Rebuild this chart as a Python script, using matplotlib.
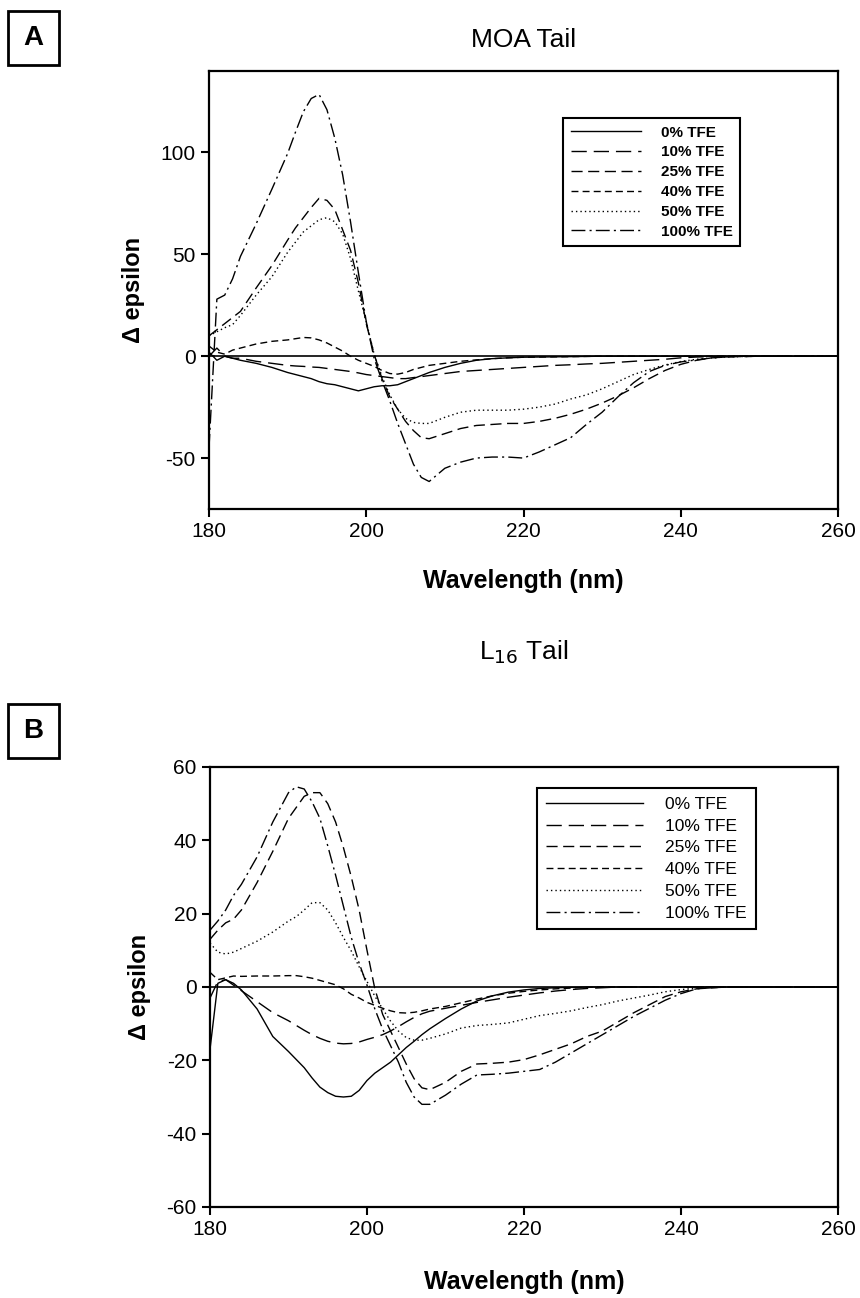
import matplotlib
matplotlib.use("Agg")
import matplotlib.pyplot as plt
from matplotlib.patches import Rectangle

plt.rcParams['font.family'] = ['Liberation Sans', 'DejaVu Sans']
plt.rcParams['axes.unicode_minus'] = False

# wavelength grid (nm) shared by all curves
wl = [180, 181, 182, 183, 184, 186, 188, 190, 191, 192, 193, 194, 195, 196, 197, 198, 199,
      200, 201, 202, 203, 204, 205, 206, 207, 208, 210, 212, 214, 216, 218, 220, 222, 224,
      226, 228, 230, 232, 234, 236, 238, 240, 242, 244, 246, 250, 255, 260]

labels = ["0% TFE", "10% TFE", "25% TFE", "40% TFE", "50% TFE", "100% TFE"]

# --- panel A : MOA tail ---
moa_0 = [2, -2, 0, -1, -2, -3.5, -5.5, -8, -9, -10, -11, -12.5, -13.5, -14, -15, -16, -17,
         -16, -15, -14.5, -14.5, -14, -12.5, -11, -9.5, -8, -5.5, -3.5, -2, -1.2, -0.8, -0.5,
         -0.4, -0.3, -0.2, -0.1, 0, 0, 0, 0, 0, 0, 0, 0, 0, 0, 0, 0]
moa_10 = [0, 4, 0, -1, -1, -2.5, -3.5, -4.5, -4.8, -5, -5.3, -5.5, -6, -6.5, -7, -7.5, -8.2,
          -9, -9.5, -10, -10.5, -11, -11, -10.5, -10, -9.5, -8.5, -7.5, -7, -6.5, -6, -5.5,
          -5, -4.5, -4.2, -3.8, -3.5, -3, -2.5, -2, -1.5, -0.8, -0.4, -0.2, 0, 0, 0, 0]
moa_25 = [10, 13, 16, 19, 22, 33.5, 44.5, 57, 63, 68, 73, 77.5, 76.5, 72, 62, 52, 36,
          16, 1, -11, -20, -26, -32, -36.5, -40, -40.5, -38, -35.5, -34, -33.5, -33, -33,
          -32, -30.5, -28.5, -26, -23, -19.5, -15.5, -11, -7, -4, -2, -0.8, -0.3, 0, 0, 0]
moa_40 = [5, 2, 1, 3, 4, 6, 7.3, 8, 8.6, 9.2, 9, 8, 6.5, 4.5, 2.5, 0, -2,
          -3.5, -5, -7, -8.5, -8.8, -8, -6.5, -5.5, -4.5, -3.5, -2.5, -1.8, -1.2, -0.8, -0.5,
          -0.4, -0.3, -0.2, -0.1, 0, 0, 0, 0, 0, 0, 0, 0, 0, 0, 0, 0]
moa_50 = [10, 12, 14, 15.5, 20, 30, 39, 51, 56, 61, 64, 67, 68, 66, 60, 48, 32,
          17, 1, -10, -19, -26, -30.5, -32.5, -33, -33, -30, -27.5, -26.5, -26.5, -26.5, -26,
          -25, -23.5, -21, -19, -16, -12.5, -9, -6.5, -4.3, -2.6, -1.5, -0.8, -0.3, 0, 0, 0]
moa_100 = [-45, 28, 30, 38, 49, 65, 82, 99.5, 110, 120, 126.5, 128.5, 121, 107, 89, 66, 41,
           17, -1, -12, -22, -33, -43, -53, -59.5, -61.5, -55, -52, -50, -49.5, -49.5, -50,
           -47, -43.5, -40, -33.5, -27.5, -20, -13, -7.5, -4.5, -2.8, -1.8, -0.8, -0.3, 0, 0, 0]

# --- panel B : L16 tail ---
l16_0 = [-17, 1, 2, 1, -0.8, -6, -13.5, -17.6, -19.8, -22, -24.8, -27.3, -28.8, -29.8, -30, -29.8, -28.2,
         -25.5, -23.5, -22, -20.5, -18.5, -16.5, -14.8, -13, -11.4, -8.6, -6, -3.8, -2.4, -1.4, -0.8,
         -0.4, -0.2, -0.1, 0, 0, 0, 0, 0, 0, 0, 0, 0, 0, 0, 0, 0]
l16_10 = [-3, 1.5, 2, 0.5, -1, -4, -7, -9.2, -10.5, -11.8, -13, -14, -14.8, -15.3, -15.5, -15.4, -15,
          -14.3, -13.7, -13, -12, -10.8, -9.5, -8.3, -7.3, -6.6, -5.8, -5, -4.2, -3.5, -2.8, -2.2,
          -1.6, -1.1, -0.7, -0.4, -0.2, 0, 0, 0, 0, 0, 0, 0, 0, 0, 0, 0]
l16_25 = [13, 15.5, 17.5, 18.5, 21, 28.5, 37, 46, 49, 52, 53, 53, 50, 45, 38, 30, 21,
          10, -0.5, -7.5, -12, -16.5, -21, -25, -27.5, -28, -26, -23, -21, -20.8, -20.5, -19.8,
          -18.5, -17, -15.5, -13.5, -12, -9.5, -7, -4.8, -2.6, -1.3, -0.5, -0.2, 0, 0, 0, 0]
l16_40 = [4, 2, 2.5, 3, 2.9, 3, 3, 3.1, 3.1, 2.8, 2.4, 1.8, 1.2, 0.6, -0.5, -2, -3,
          -4.2, -5, -5.8, -6.5, -7, -7.1, -6.9, -6.5, -6, -5.3, -4.3, -3.3, -2.4, -1.7, -1.2,
          -0.8, -0.5, -0.3, -0.1, 0, 0, 0, 0, 0, 0, 0, 0, 0, 0, 0, 0]
l16_50 = [12, 9.5, 9, 9.5, 10.5, 12.5, 15, 18, 19.2, 21, 23, 23, 21, 17.5, 13.5, 9.8, 5.5,
          1.5, -2.5, -6, -9.3, -12, -13.8, -14.5, -14.5, -14, -12.8, -11.2, -10.5, -10.2, -9.8, -8.8,
          -7.8, -7.2, -6.5, -5.6, -4.8, -3.8, -3, -2.2, -1.3, -0.7, -0.3, 0, 0, 0, 0, 0]
l16_100 = [15.5, 18, 21, 25, 28, 35.5, 45, 53, 54.6, 54, 50.5, 46, 38.5, 30.5, 22, 13.5, 6.5,
           0.5, -6, -11.5, -16, -20.5, -26, -30, -32, -32, -29.5, -26.5, -24, -23.8, -23.5, -23,
           -22.5, -20.5, -18, -15.5, -13, -10.5, -8, -5.8, -3.6, -1.8, -0.5, -0.2, 0, 0, 0, 0]

styles = ['-', (0, (11, 5)), (0, (8, 4)), (0, (5, 3)), (0, (1, 2.2)), (0, (10, 3, 1.5, 3))]


def draw_panel(ax, series, ylim, yticks, leg_anchor, leg_size, leg_bold, handlelen, xpad):
    for ys, ls, lab in zip(series, styles, labels):
        ax.plot(wl, ys, color='black', lw=1.0, linestyle=ls, label=lab)
    ax.axhline(0, color='black', lw=1.2)
    ax.set_xlim(180, 260)
    ax.set_ylim(*ylim)
    ax.set_xticks([180, 200, 220, 240, 260])
    ax.set_yticks(yticks)
    for s in ax.spines.values():
        s.set_linewidth(1.6)
    ax.tick_params(direction='out', length=6, width=1.5, labelsize=15, top=False, right=False)
    ax.set_xlabel("Wavelength (nm)", fontsize=18, fontweight='bold', labelpad=xpad)
    ax.set_ylabel("Δ epsilon", fontsize=17, fontweight='bold', labelpad=11)
    leg = ax.legend(loc='upper left', bbox_to_anchor=leg_anchor, bbox_transform=ax.figure.transFigure,
                    frameon=True, fancybox=False, edgecolor='black', framealpha=1,
                    borderaxespad=0, handlelength=handlelen, handletextpad=1.3,
                    labelspacing=0.38, borderpad=0.5,
                    prop={'size': leg_size, 'weight': 'bold' if leg_bold else 'normal'})
    leg.get_frame().set_linewidth(1.5)


fig = plt.figure(figsize=(8.6, 12.98), dpi=100)
axA = fig.add_axes([209 / 860, 1 - 509 / 1298, 629 / 860, 438 / 1298])
axB = fig.add_axes([210 / 860, 1 - 1207 / 1298, 628 / 860, 440 / 1298])

draw_panel(axA, [moa_0, moa_10, moa_25, moa_40, moa_50, moa_100], (-75, 140), [-50, 0, 50, 100],
           (563 / 860, 1 - 118 / 1298), 11, True, 4.6, 20)
draw_panel(axB, [l16_0, l16_10, l16_25, l16_40, l16_50, l16_100], (-60, 60), [-60, -40, -20, 0, 20, 40, 60],
           (537 / 860, 1 - 788 / 1298), 12.5, False, 5.6, 22)

fig.text(524 / 860, 1 - 40 / 1298, "MOA Tail", ha='center', va='center', fontsize=19)
fig.text(524 / 860, 1 - 652 / 1298, "L$_{16}$ Tail", ha='center', va='center', fontsize=19)

# boxed panel letters
for lab, top in (("A", 11), ("B", 704)):
    fig.patches.append(Rectangle((8 / 860, 1 - (top + 54) / 1298), 51 / 860, 54 / 1298,
                                 transform=fig.transFigure, fill=False, lw=2, edgecolor='black'))
    fig.text(33.5 / 860, 1 - (top + 27) / 1298, lab, ha='center', va='center',
             fontsize=20, fontweight='bold')

fig.savefig("out.png", dpi=100)
